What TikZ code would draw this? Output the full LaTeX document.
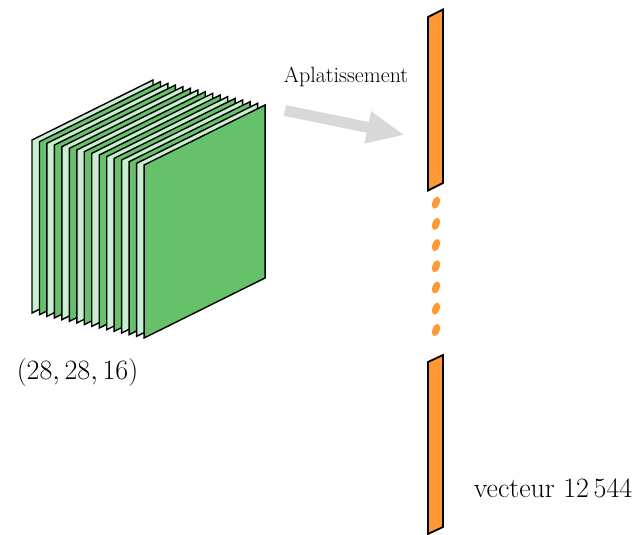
\RequirePackage{fix-cm}
\documentclass[tikz,border=0pt]{standalone}
\usetikzlibrary{arrows.meta}
\definecolor{lightg}{RGB}{200,240,208}
\definecolor{darkg}{RGB}{102,193,106}
\definecolor{orng}{RGB}{255,153,51}
\definecolor{arrowgray}{RGB}{217,217,217}
\begin{document}
\begin{tikzpicture}[x=1pt,y=-1pt,
  sheet/.style={draw=black,line width=1.4pt,line join=miter},
  barshape/.style={draw=black,fill=orng,line width=1.8pt,line join=miter},
  dotmark/.style={fill=orng},
  flatarrow/.style={draw=arrowgray,line width=11pt,-{Triangle[length=38pt,width=30pt]}},
  lbl/.style={inner sep=0pt,anchor=base}]
\useasboundingbox (0,0) rectangle (638,535);
% stack of 16 feature maps
\foreach \i in {0,...,15} {
  \pgfmathsetmacro\dx{\i*7.47}
  \pgfmathsetmacro\dy{\i*1.667}
  \ifodd\i\relax\def\fc{darkg}\else\def\fc{lightg}\fi
  \draw[sheet,fill=\fc] (32+\dx,140+\dy) -- ++(121,-60) -- ++(0,173) -- ++(-121,60) -- cycle;
}
\node[lbl,font=\fontsize{28}{32}\selectfont] (shape) at (77.5,379) {$(28, 28, 16)$};
% flatten arrow
\coordinate (as) at (285,110.5);
\coordinate (ae) at (405,135);
\draw[flatarrow] (as) -- (ae);
\node[lbl,font=\fontsize{22}{26}\selectfont] (flat) at (346,83) {Aplatissement};
% vector bars
\draw[barshape] (428,17) -- (443,9.5) -- (443,183) -- (428,190.5) -- cycle;
\draw[barshape] (428,362) -- (443,355) -- (443,527) -- (428,534) -- cycle;
\foreach \y in {202.7,223.9,245.1,266.3,287.5,308.7,330} {
  \fill[dotmark] (436,\y) ellipse [x radius=3.6, y radius=6.4, rotate=-20];
}
\node[lbl,font=\fontsize{28}{32}\selectfont] (vec) at (553,497) {vecteur 12\,544};
\end{tikzpicture}
\end{document}
